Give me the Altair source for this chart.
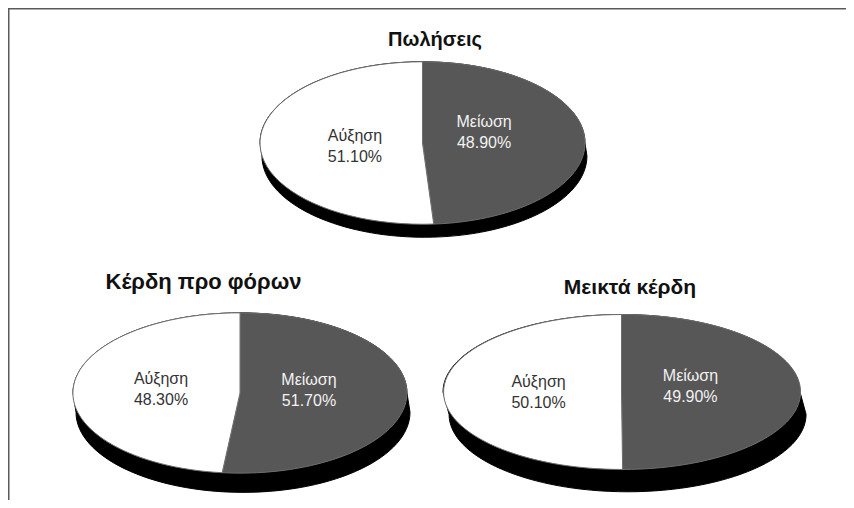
import math
import altair as alt
import pandas as pd

# ---- data ----
titles = ["Πωλήσεις", "Κέρδη προ φόρων", "Μεικτά κέρδη"]
categories = ["Μείωση", "Αύξηση"]
decrease = [48.9, 51.7, 49.9]
increase = [51.1, 48.3, 50.1]

rows = []
for t, d, i in zip(titles, decrease, increase):
    rows.append({"pie": t, "category": categories[0], "value": d, "order": 0})
    rows.append({"pie": t, "category": categories[1], "value": i, "order": 1})
df = pd.DataFrame(rows)

# ---- layout / style (not data) ----
W, H = 838, 492
layout = {
    "Πωλήσεις":        dict(cx=414.5, cy=135, rx=162.5, k=0.50, sdx=0.012, sdy=0.08,
                            lr=65, ldx=-3, ldy=-14, rot=-0.08, tx=427, ty=32, tfs=20),
    "Κέρδη προ φόρων": dict(cx=232.0, cy=385, rx=167.0, k=0.48, sdx=0.018, sdy=0.115,
                            lr=74, ldx=-5, ldy=-13.5, rot=-0.04, tx=195.5, ty=274, tfs=22),
    "Μεικτά κέρδη":    dict(cx=613.5, cy=384, rx=178.5, k=0.434, sdx=0.034, sdy=0.125,
                            lr=76, ldx=-7, ldy=-13, rot=-0.03, tx=622, ty=280, tfs=21),
}
FONT = "Liberation Sans"
slice_fill = alt.Scale(domain=categories, range=["#575757", "#ffffff"])
text_fill = alt.Scale(domain=categories, range=["#f2f2f2", "#333333"])


def r4(e):
    return f"(round(({e})*10000)/10000)"


layers = []

# frame (top and left lines)
frame_df = pd.DataFrame({"f": [0]})
layers.append(alt.Chart(frame_df).mark_rule(color="#5a5a5a", strokeWidth=1.5).encode(
    x=alt.value(0), x2=alt.value(W), y=alt.value(0.75)))
layers.append(alt.Chart(frame_df).mark_rule(color="#5a5a5a", strokeWidth=1.5).encode(
    x=alt.value(0.75), y=alt.value(0), y2=alt.value(H)))

for t in titles:
    p = layout[t]
    k = p["k"]
    size = 4 * p["rx"] ** 2
    base = alt.Chart(df).transform_filter(alt.datum.pie == t)

    shadow_path = (f"M-1,0 A1,{k} 0 0,1 1,0 L{1 + p['sdx']:.4f},{p['sdy']:.4f} "
                   f"A1,{k} 0 0,1 {-1 + p['sdx']:.4f},{p['sdy']:.4f} Z")
    shadow = base.transform_filter(alt.datum.order == 0).mark_point(
        filled=True, opacity=1, fill="black", stroke="black", strokeWidth=1,
        shape=shadow_path, size=size
    ).encode(x=alt.value(p["cx"]), y=alt.value(p["cy"]))

    path_expr = (
        "'M0,0 L' + " + r4("sin(datum.a0)") + " + ',' + " + r4(f"-{k}*cos(datum.a0)") +
        f" + ' A1,{k} 0 ' + (datum.a1 - datum.a0 > PI ? 1 : 0) + ',1 ' + " +
        r4("sin(datum.a1)") + " + ',' + " + r4(f"-{k}*cos(datum.a1)") + " + ' Z'"
    )
    slices = base.transform_joinaggregate(
        tot="sum(value)"
    ).transform_window(
        cum="sum(value)", sort=[alt.SortField("order")], frame=[None, 0]
    ).transform_calculate(
        a0="2*PI*(datum.cum - datum.value)/datum.tot",
        a1="2*PI*datum.cum/datum.tot",
    ).transform_calculate(
        path=path_expr
    ).mark_point(
        filled=True, opacity=1, stroke="#6e6e6e", strokeWidth=1, size=size
    ).encode(
        x=alt.value(p["cx"]), y=alt.value(p["cy"]),
        shape=alt.Shape("path:N", scale=None, legend=None),
        fill=alt.Fill("category:N", scale=slice_fill, legend=None),
        order=alt.Order("order:Q"),
    )

    labels = base.transform_calculate(
        label="datum.category + '\\n' + format(datum.value, '.2f') + '%'"
    ).mark_text(
        font=FONT, fontSize=16, lineBreak="\n", lineHeight=21,
        radius=p["lr"], dx=p["ldx"], dy=p["ldy"], align="center", baseline="middle"
    ).encode(
        x=alt.value(p["cx"]), y=alt.value(p["cy"]),
        theta=alt.Theta("value:Q", stack=True,
                        scale=alt.Scale(range=[p["rot"], p["rot"] + 2 * math.pi])),
        order=alt.Order("order:Q"),
        text="label:N",
        color=alt.Color("category:N", scale=text_fill, legend=None),
    )

    title = base.transform_filter(alt.datum.order == 0).mark_text(
        font=FONT, fontSize=p["tfs"], fontWeight="bold", color="#111111",
        align="center", baseline="middle"
    ).encode(x=alt.value(p["tx"]), y=alt.value(p["ty"]), text="pie:N")

    layers += [shadow, slices, labels, title]

chart = alt.layer(*layers).resolve_scale(theta="independent").properties(
    width=W, height=H, padding=0, autosize="none"
).configure_view(stroke=None)

chart.save("out.html", embed_options={"renderer": "svg", "actions": False})
